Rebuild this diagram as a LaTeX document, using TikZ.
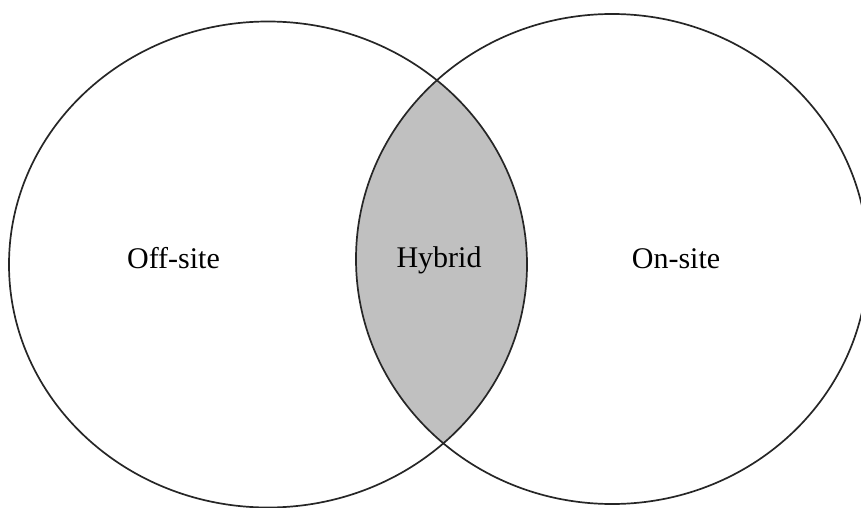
\documentclass[tikz,border=0pt]{standalone}
\usepackage{fontspec}
\setmainfont{Liberation Serif}
\definecolor{lensgray}{RGB}{192,192,192}
\tikzset{
  setline/.style={draw=black!85, line width=1.7pt},
  setlabel/.style={font=\fontsize{30}{36}\selectfont, text=black, inner sep=0pt, anchor=base}
}
\begin{document}
\begin{tikzpicture}[x=1pt, y=-1pt]
\useasboundingbox (0,0) rectangle (861,508);
\coordinate (cl) at (268,264.5);
\coordinate (cr) at (612,259);
\begin{scope}
  \clip (cl) ellipse [x radius=259, y radius=243];
  \fill[lensgray] (cr) ellipse [x radius=256, y radius=245];
\end{scope}
\draw[setline] (cl) ellipse [x radius=259, y radius=243];
\draw[setline] (cr) ellipse [x radius=256, y radius=245];
\node[setlabel] (off) at (173.5,268) {Off-site};
\node[setlabel] (hyb) at (439,267) {Hybrid};
\node[setlabel] (on) at (676,268) {On-site};
\end{tikzpicture}
\end{document}
